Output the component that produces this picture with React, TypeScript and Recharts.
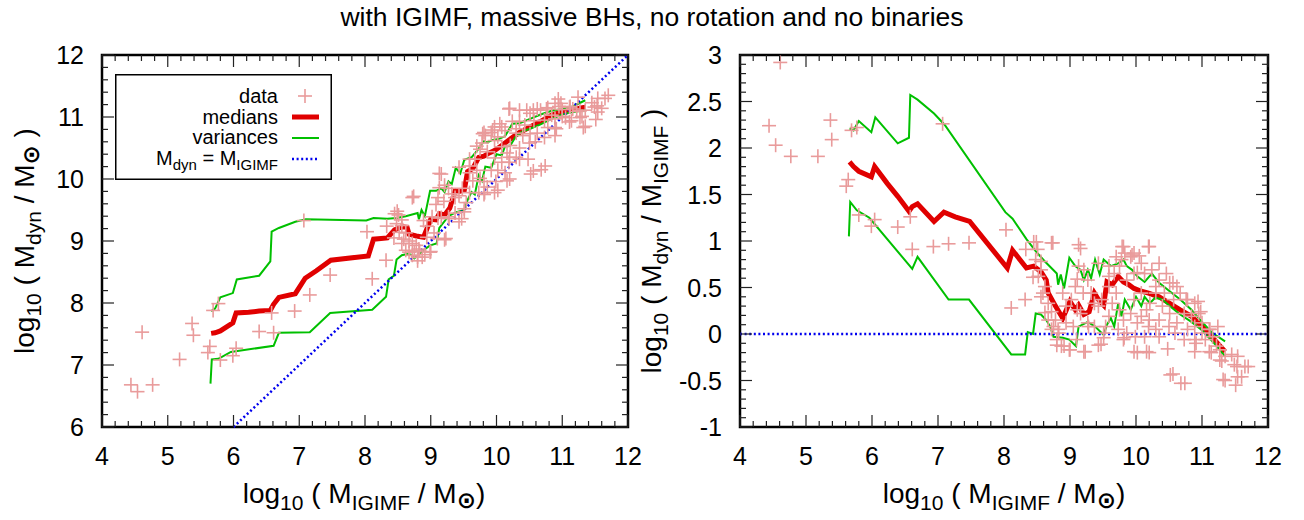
import React from "react";
import {
  ComposedChart,
  Scatter,
  Line,
  XAxis,
  YAxis,
  ReferenceLine,
  ReferenceArea,
  Legend,
} from "recharts";

const FONT = '"Liberation Sans", Arial, Helvetica, sans-serif';
const PINK = "#e99b9b";
const RED = "#e00000";
const GREEN = "#00c000";
const BLUE = "#0000ee";

// tick labels
const xMajor = [4, 5, 6, 7, 8, 9, 10, 11, 12];
const massMajor = [6, 7, 8, 9, 10, 11, 12];
const ratioMajor = [-1, -0.5, 0, 0.5, 1, 1.5, 2, 2.5, 3];

// galaxies: [log10 M_IGIMF, log10 (M_dyn / M_IGIMF)]
const galaxies: number[][] = [
  [4.44, 2.24], [4.61, 2.92], [4.54, 2.03], [4.77, 1.91], [5.18, 1.91], [5.37, 2.3],
  [5.39, 2.09], [5.69, 2.19], [5.77, 2.22], [5.64, 1.66], [5.61, 1.59], [5.8, 1.28],
  [5.99, 1.16], [6.04, 1.23], [6.39, 1.15], [6.58, 1.26], [6.61, 0.91], [6.93, 0.94],
  [7.16, 0.97], [7.47, 0.98], [7.07, 2.26], [8.03, 1.12], [8.11, 0.28], [8.32, 0.37],
  [8.33, 0.91],
  [8.45, 0.99], [8.51, 0.91], [8.48, 0.8], [8.44, 0.61], [8.56, 0.69], [8.62, 0.51],
  [8.56, 0.4], [8.67, 0.33], [8.72, 0.24], [8.78, 0.15], [8.75, 0.08], [8.72, 0.05],
  [8.83, 0.01], [8.8, -0.06], [8.8, -0.12], [8.91, -0.13], [8.99, -0.17], [8.94, 0.3],
  [9.02, 0.37], [9.08, 0.51], [8.89, 0.44], [8.94, 0.12], [9.05, 0.08], [9.1, -0.06],
  [9.16, 0.22], [8.72, 0.98],
  [9.13, 0.96], [9.16, 0.92], [9.21, 0.69], [9.27, 0.58], [9.32, 0.44], [9.37, 0.33],
  [9.43, 0.3], [9.27, 0.12], [9.37, 0.08], [9.51, 0.01], [9.54, 0.08], [9.59, 0.19],
  [9.48, 0.37], [9.59, 0.51], [9.67, 0.65], [9.75, 0.73], [9.78, 0.8], [9.83, 0.87],
  [9.81, 0.94], [9.92, 0.83], [9.97, 0.65], [9.86, 0.58], [9.7, 0.44], [9.64, 0.33],
  [9.75, 0.26], [9.81, 0.15], [9.73, 0.05], [9.81, -0.06], [9.86, 0.01], [9.43, -0.12],
  [9.21, -0.19], [9.59, 0.62], [9.7, 0.83], [9.51, -0.04],
  [9.97, 0.87], [10.08, 0.76], [10.19, 0.94], [10.13, 0.65], [10.24, 0.69], [10.35, 0.58],
  [10.46, 0.65], [10.51, 0.55], [10.43, 0.44], [10.3, 0.44], [10.21, 0.33], [10.16, 0.26],
  [10.08, 0.19], [10.02, 0.12], [10.19, 0.08], [10.3, 0.05], [10.35, -0.03], [10.13, -0.03],
  [9.97, -0.19], [10.16, -0.19], [10.48, -0.16], [10.57, 0.37], [10.62, 0.51], [10.4, 0.3],
  [10.51, 0.22], [10.62, 0.12], [10.59, 0.01], [10.35, 0.15], [10.08, 0.44], [9.97, 0.37],
  [9.92, 0.22],
  [10.67, 0.44], [10.78, 0.37], [10.89, 0.33], [10.73, 0.22], [10.84, 0.19], [10.95, 0.22],
  [11.0, 0.12], [10.89, 0.08], [10.78, 0.05], [10.73, -0.06], [10.89, -0.06], [11.05, -0.06],
  [11.0, 0.01], [11.11, 0.05], [11.16, -0.03], [11.22, -0.13], [11.27, -0.17], [11.11, -0.19],
  [10.89, -0.19], [11.27, -0.28], [11.35, -0.24], [11.49, -0.33], [11.54, -0.24], [11.65, -0.35],
  [11.51, -0.55], [11.54, -0.46], [11.32, -0.49], [10.68, -0.53], [10.52, -0.44],
  [9.43, 0.76], [9.59, 0.73], [9.79, 0.94], [9.94, 0.85], [10.05, 0.84], [10.2, 0.94],
  [10.02, 0.66], [10.35, 0.76], [10.3, 0.51], [10.2, 0.15], [9.99, -0.03], [9.82, -0.04],
  [10.02, -0.2], [10.2, -0.2], [10.5, 0.08], [10.56, 0.55], [10.76, 0.37], [10.94, 0.35],
  [10.98, 0.24], [11.12, 0.05], [11.24, 0.08], [10.91, -0.1], [11.14, -0.2], [11.3, -0.29],
  [11.45, -0.22], [11.53, -0.35], [11.7, -0.35], [11.35, -0.5], [11.6, -0.46], [10.56, -0.43],
  [10.74, -0.53], [8.56, 0.78], [8.52, 0.62], [8.59, 0.44], [8.62, 0.23], [8.67, 0.15],
  [8.82, 0.05], [8.87, -0.13], [9.0, -0.17], [9.23, -0.19], [9.47, -0.11], [9.13, 0.73],
  [9.11, 0.59], [9.2, 0.44], [9.11, 0.26], [9.28, 0.08], [8.49, 0.99], [8.74, 0.98],
];

const medians: number[][] = [
  [5.66, 1.85], [5.72, 1.8], [5.8, 1.75], [5.99, 1.69], [6.04, 1.8], [6.23, 1.62],
  [6.39, 1.48], [6.56, 1.32], [6.61, 1.37], [6.69, 1.4], [6.94, 1.21], [7.09, 1.31],
  [7.26, 1.26], [7.48, 1.21], [8.05, 0.71], [8.13, 0.9], [8.34, 0.71], [8.45, 0.73],
  [8.56, 0.67], [8.64, 0.58], [8.67, 0.44], [8.78, 0.3], [8.89, 0.17], [9.0, 0.35],
  [9.08, 0.26], [9.13, 0.31], [9.21, 0.21], [9.29, 0.24], [9.37, 0.44], [9.43, 0.37],
  [9.51, 0.31], [9.56, 0.56], [9.64, 0.53], [9.73, 0.62], [9.81, 0.56], [9.89, 0.53],
  [9.97, 0.49], [10.08, 0.46], [10.19, 0.44], [10.35, 0.4], [10.51, 0.33], [10.67, 0.26],
  [10.84, 0.19], [11.0, 0.08], [11.16, -0.04], [11.35, -0.19],
];

const upperVar: number[][] = [
  [5.66, 2.21], [5.72, 2.19], [5.8, 2.29], [5.99, 2.17], [6.05, 2.33], [6.39, 2.05],
  [6.56, 2.11], [6.58, 2.57], [6.69, 2.52], [6.94, 2.37], [7.1, 2.25], [8.02, 1.31],
  [8.13, 1.24], [8.34, 1.02], [8.48, 0.89], [8.62, 0.78], [8.8, 0.65], [8.82, 0.53],
  [8.86, 0.64], [8.91, 0.49], [8.99, 0.82], [9.08, 0.73], [9.16, 0.69], [9.21, 0.58],
  [9.27, 0.69], [9.32, 0.6], [9.38, 0.8], [9.45, 0.64], [9.51, 0.8], [9.62, 0.73],
  [9.73, 0.76], [9.81, 0.8], [9.86, 0.73], [9.94, 0.69], [10.02, 0.62], [10.13, 0.56],
  [10.24, 0.65], [10.35, 0.55], [10.51, 0.46], [10.67, 0.37], [10.84, 0.26], [11.0, 0.13],
  [11.16, 0.01], [11.35, -0.08],
];

const lowerVar: number[][] = [
  [5.65, 1.05], [5.67, 1.42], [5.77, 1.33], [5.96, 1.25], [6.61, 0.7], [6.69, 0.83],
  [7.16, 0.37], [7.47, 0.37], [8.11, -0.22], [8.32, -0.22], [8.36, 0.02], [8.44, 0.0],
  [8.48, 0.22], [8.56, 0.21], [8.64, 0.15], [8.7, 0.08], [8.75, -0.03], [8.89, -0.04],
  [8.99, -0.06], [9.09, -0.13], [9.13, 0.08], [9.27, 0.13], [9.38, 0.08], [9.51, -0.01],
  [9.56, 0.1], [9.62, 0.17], [9.67, 0.08], [9.73, 0.33], [9.78, 0.19], [9.83, 0.37],
  [9.92, 0.26], [10.0, 0.4], [10.08, 0.3], [10.13, 0.4], [10.21, 0.33], [10.29, 0.39],
  [10.4, 0.37], [10.51, 0.3], [10.67, 0.21], [10.84, 0.13], [11.0, 0.04], [11.16, -0.08],
  [11.35, -0.24],
];

const PLOT_TOP = 55;
const PLOT_BOTTOM = 427;
const CHART_W = 652;
const TITLE_FS = 28;
const SUB_FS = 21;

function withMinor(majors: number[], parts: number) {
  const out: number[] = [];
  for (let i = 0; i < majors.length - 1; i++) {
    const a = majors[i];
    const step = (majors[i + 1] - a) / parts;
    for (let k = 0; k < parts; k++) out.push(Number((a + k * step).toFixed(4)));
  }
  out.push(majors[majors.length - 1]);
  return out;
}

const Cross = (p: any) => {
  const { cx, cy } = p;
  if (cx == null || cy == null) return null;
  return (
    <g stroke={PINK} strokeWidth={1.6}>
      <line x1={cx - 7} x2={cx + 7} y1={cy} y2={cy} />
      <line x1={cx} x2={cx} y1={cy - 7} y2={cy + 7} />
    </g>
  );
};

const LegendBox = () => (
  <svg width={217} height={106} style={{ display: "block" }}>
    <rect x={0.75} y={0.75} width={215.5} height={104.5} fill="#fff" stroke="#000" strokeWidth={1.5} />
    <g fontFamily={FONT} fontSize={20} textAnchor="end" fill="#000">
      <text x={163} y={29}>data</text>
      <text x={163} y={50}>medians</text>
      <text x={163} y={70}>variances</text>
      <text x={163} y={91}>
        M<tspan fontSize={15} dy={5}>dyn</tspan>
        <tspan dy={-5}> = M</tspan>
        <tspan fontSize={15} dy={5}>IGIMF</tspan>
      </text>
    </g>
    <g stroke={PINK} strokeWidth={1.6}>
      <line x1={183} x2={197} y1={22} y2={22} />
      <line x1={190} x2={190} y1={15} y2={29} />
    </g>
    <line x1={177} x2={204} y1={43} y2={43} stroke={RED} strokeWidth={5} />
    <line x1={177} x2={204} y1={64} y2={64} stroke={GREEN} strokeWidth={2} />
    <line x1={177} x2={204} y1={85} y2={85} stroke={BLUE} strokeWidth={2.5} strokeDasharray="2 2.6" />
  </svg>
);

function Panel({ ratio }: { ratio: boolean }) {
  const offset = ratio ? CHART_W : 0;
  const yAxisW = ratio ? 88 : 102;
  const rightM = ratio ? 36 : 24;
  const localL = yAxisW;
  const localR = CHART_W - rightM;
  const yMajor = ratio ? ratioMajor : massMajor;
  const yTicks = withMinor(yMajor, 5);
  const xTicks = withMinor(xMajor, 5);
  const yDomain = [yMajor[0], yMajor[yMajor.length - 1]];
  // left panel shows log M_dyn = log M_IGIMF + log(M_dyn/M_IGIMF)
  const pts = (arr: number[][]) => arr.map(([x, r]) => ({ x, y: ratio ? r : x + r }));

  const xTick = (p: any) => {
    const v = p.payload.value;
    const x = p.x;
    const major = xMajor.includes(v);
    const len = major ? 12 : 6;
    return (
      <g>
        <line x1={x} x2={x} y1={PLOT_BOTTOM} y2={PLOT_BOTTOM - len} stroke="#222" strokeWidth={1.2} />
        <line x1={x} x2={x} y1={PLOT_TOP} y2={PLOT_TOP + len} stroke="#222" strokeWidth={1.2} />
        {major && (
          <text x={x} y={PLOT_BOTTOM + 38} textAnchor="middle" fontFamily={FONT} fontSize={25} fill="#000">
            {String(v)}
          </text>
        )}
      </g>
    );
  };

  const yTick = (p: any) => {
    const v = p.payload.value;
    const y = p.y;
    const major = yMajor.includes(v);
    const len = major ? 12 : 6;
    return (
      <g>
        <line x1={localL} x2={localL + len} y1={y} y2={y} stroke="#222" strokeWidth={1.2} />
        <line x1={localR} x2={localR - len} y1={y} y2={y} stroke="#222" strokeWidth={1.2} />
        {major && (
          <text x={localL - 18} y={y + 9} textAnchor="end" fontFamily={FONT} fontSize={25} fill="#000">
            {String(v)}
          </text>
        )}
      </g>
    );
  };

  return (
    <div style={{ position: "absolute", left: offset, top: 0 }}>
      <ComposedChart width={CHART_W} height={520} margin={{ top: PLOT_TOP, right: rightM, bottom: 0, left: 0 }}>
        <XAxis
          type="number"
          dataKey="x"
          domain={[4, 12]}
          ticks={xTicks}
          interval={0}
          tickSize={0}
          tickMargin={0}
          axisLine={false}
          tickLine={false}
          tick={xTick}
          height={520 - PLOT_BOTTOM}
          allowDataOverflow
        />
        <YAxis
          type="number"
          dataKey="y"
          domain={yDomain}
          ticks={yTicks}
          interval={0}
          tickSize={0}
          tickMargin={0}
          axisLine={false}
          tickLine={false}
          tick={yTick}
          width={yAxisW}
          allowDataOverflow
        />
        <Scatter data={pts(galaxies)} shape={Cross} isAnimationActive={false} />
        <Line data={pts(medians)} dataKey="y" type="linear" stroke={RED} strokeWidth={5} dot={false} activeDot={false} isAnimationActive={false} />
        <Line data={pts(upperVar)} dataKey="y" type="linear" stroke={GREEN} strokeWidth={2} dot={false} activeDot={false} isAnimationActive={false} />
        <Line data={pts(lowerVar)} dataKey="y" type="linear" stroke={GREEN} strokeWidth={2} dot={false} activeDot={false} isAnimationActive={false} />
        {ratio ? (
          <ReferenceLine y={0} stroke={BLUE} strokeWidth={2.5} strokeDasharray="2 2.6" />
        ) : (
          <ReferenceLine segment={[{ x: 6, y: 6 }, { x: 12, y: 12 }]} stroke={BLUE} strokeWidth={2.5} strokeDasharray="2 2.6" />
        )}
        <ReferenceArea x1={4} x2={12} y1={yDomain[0]} y2={yDomain[1]} fill="none" fillOpacity={0} stroke="#000" strokeWidth={2.5} />
        {!ratio && (
          <Legend
            layout="horizontal"
            verticalAlign="middle"
            align="center"
            wrapperStyle={{ left: 115, top: 74, width: 217, height: 106 }}
            content={() => <LegendBox />}
          />
        )}
      </ComposedChart>
    </div>
  );
}

const Sun = ({ dy }: { dy: number }) => (
  <tspan fontFamily="DejaVu Sans" fontWeight="bold" fontSize={23} dy={dy}>
    ⊙
  </tspan>
);

export default function App() {
  const midY = (PLOT_TOP + PLOT_BOTTOM) / 2;
  return (
    <div style={{ position: "absolute", left: 0, top: 0, width: 1304, height: 520, background: "#fff" }}>
      <Panel ratio={false} />
      <Panel ratio={true} />
      <svg
        width={1304}
        height={520}
        style={{ position: "absolute", left: 0, top: 0, pointerEvents: "none" }}
        fontFamily={FONT}
        fontSize={TITLE_FS}
        fill="#000"
      >
        <text x={652} y={26} textAnchor="middle" fontSize={26.5}>
          with IGIMF, massive BHs, no rotation and no binaries
        </text>
        <text x={364} y={503} textAnchor="middle">
          log<tspan fontSize={SUB_FS} dy={7}>10</tspan>
          <tspan dy={-7}> ( M</tspan>
          <tspan fontSize={SUB_FS} dy={7}>IGIMF</tspan>
          <tspan dy={-7}> / M</tspan>
          <Sun dy={5} />
          <tspan dy={-5}>)</tspan>
        </text>
        <text x={1004} y={503} textAnchor="middle">
          log<tspan fontSize={SUB_FS} dy={7}>10</tspan>
          <tspan dy={-7}> ( M</tspan>
          <tspan fontSize={SUB_FS} dy={7}>IGIMF</tspan>
          <tspan dy={-7}> / M</tspan>
          <Sun dy={5} />
          <tspan dy={-5}>)</tspan>
        </text>
        <text x={34} y={midY} textAnchor="middle" transform={`rotate(-90, 34, ${midY})`}>
          log<tspan fontSize={SUB_FS} dy={7}>10</tspan>
          <tspan dy={-7}> ( M</tspan>
          <tspan fontSize={SUB_FS} dy={7}>dyn</tspan>
          <tspan dy={-7}> / M</tspan>
          <Sun dy={5} />
          <tspan dy={-5}> )</tspan>
        </text>
        <text x={661} y={midY} textAnchor="middle" transform={`rotate(-90, 661, ${midY})`}>
          log<tspan fontSize={SUB_FS} dy={7}>10</tspan>
          <tspan dy={-7}> ( M</tspan>
          <tspan fontSize={SUB_FS} dy={7}>dyn</tspan>
          <tspan dy={-7}> / M</tspan>
          <tspan fontSize={SUB_FS} dy={7}>IGIMF</tspan>
          <tspan dy={-7}> )</tspan>
        </text>
      </svg>
    </div>
  );
}
